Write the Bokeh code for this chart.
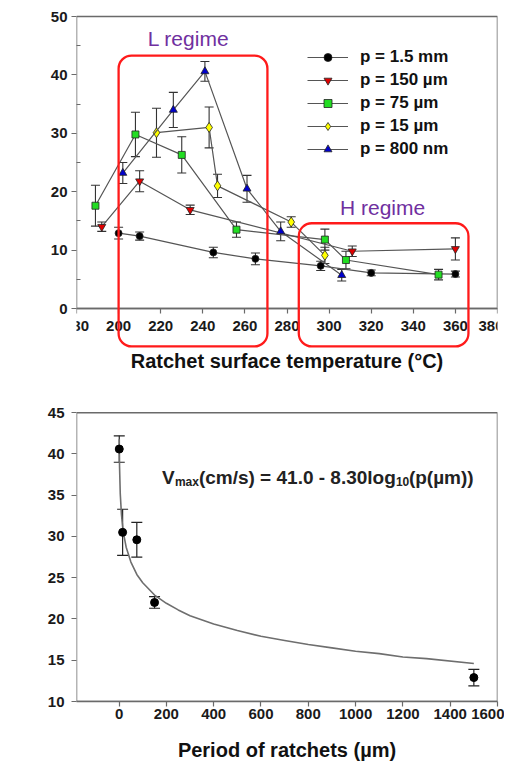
import math
from bokeh.plotting import figure
from bokeh.models import (ColumnDataSource, Whisker, TeeHead, BoxAnnotation,
                          Label, FixedTicker)
from bokeh.layouts import column
from bokeh.embed import file_html
from bokeh.resources import INLINE

# ---------------- data : panel (a) ----------------
T_15mm = [200, 210, 245, 265, 296, 320, 360]
V_15mm = [12.9, 12.4, 9.6, 8.5, 7.3, 6.1, 5.9]
E_15mm = [1.0, 0.7, 0.9, 1.0, 0.8, 0.5, 0.5]

T_150 = [192, 210, 234, 311, 360]
V_150 = [14.0, 21.8, 16.9, 9.8, 10.2]
E_150 = [0.8, 1.8, 0.8, 0.9, 1.9]

T_75 = [189, 208, 230, 256, 298, 308, 352]
V_75 = [17.6, 29.8, 26.3, 13.5, 11.8, 8.3, 5.8]
E_75 = [3.5, 3.8, 3.1, 1.3, 1.8, 1.5, 0.9]

T_15 = [218, 243, 247, 282, 298]
V_15 = [30.1, 31.0, 21.0, 14.8, 9.1]
E_15 = [4.2, 3.5, 2.0, 0.9, 1.4]

T_800 = [202, 226, 241, 261, 277, 306]
V_800 = [23.2, 34.0, 40.6, 20.5, 13.2, 5.7]
E_800 = [1.8, 3.0, 1.7, 2.3, 1.6, 1.0]

series_labels = ["p = 1.5 mm", "p = 150 µm", "p = 75 µm", "p = 15 µm", "p = 800 nm"]
x_ticks_a = [180, 200, 220, 240, 260, 280, 300, 320, 340, 360, 380]
y_ticks_a = [0, 10, 20, 30, 40, 50]
y_minor_a = [5, 15, 25, 35, 45]

# regime boxes (left, right, top, bottom) in data units
regime_boxes = [(200, 270.7, 43.3, -6.5), (285.6, 366.2, 14.6, -6.5)]
regime_labels = ["L regime", "H regime"]

# ---------------- data : panel (b) ----------------
period = [0.8, 15, 75, 150, 1500]
vmax = [40.6, 30.5, 29.6, 22.0, 12.9]
vmax_err = [1.6, 2.8, 2.1, 0.7, 1.0]

fit_p = [0.8, 2, 5, 10, 15, 20, 30, 50, 75, 100, 150, 200, 250, 300, 400, 500,
         600, 700, 800, 900, 1000, 1100, 1200, 1300, 1500]
fit_v = [41.8, 38.5, 35.2, 32.7, 31.2, 30.2, 28.7, 26.9, 25.4, 24.4, 22.9, 21.9,
         21.1, 20.4, 19.4, 18.6, 17.9, 17.4, 16.9, 16.5, 16.1, 15.8, 15.4, 15.2, 14.6]

x_ticks_b = [0, 200, 400, 600, 800, 1000, 1200, 1400, 1600]
y_ticks_b = [10, 15, 20, 25, 30, 35, 40, 45]

FONT = "Liberation Sans"
AX = "#6a6a6a"
W = 504


def style_axes(p, tick_size="15px"):
    p.outline_line_color = None
    p.grid.visible = False
    p.title.visible = False
    for ax in (p.xaxis[0], p.yaxis[0]):
        ax.axis_line_color = AX
        ax.axis_line_width = 1.5
        ax.major_tick_line_color = AX
        ax.major_tick_line_width = 1.2
        ax.minor_tick_line_color = AX
        ax.major_tick_in = 0
        ax.major_tick_out = 5
        ax.minor_tick_in = 0
        ax.minor_tick_out = 0
        ax.major_label_text_font = FONT
        ax.major_label_text_font_style = "bold"
        ax.major_label_text_font_size = tick_size
        ax.major_label_text_color = "#1a1a1a"
        ax.axis_label_text_font = FONT
        ax.axis_label_text_font_style = "bold"
        ax.axis_label_text_color = "#111111"
    # the left edge of the plot box is drawn by the outline box instead
    p.yaxis[0].axis_line_color = None


def outline(p, l, r, b, t):
    p.add_layout(BoxAnnotation(left=l, right=r, bottom=b, top=t,
                               fill_color=None, fill_alpha=0,
                               line_color=AX, line_width=1.5, line_alpha=1,
                               level="underlay"))


# ================= panel (a) =================
HA = 375
BL_A, BR_A, BT_A, BB_A = 76, 7, 2, 2          # canvas borders
XA0, XA1, YA0, YA1 = 180, 380, 0, 50          # visible axis extent
PX_Y0, PX_Y50 = 308, 16                       # canvas rows of y=0 and y=50
sy_a = (PX_Y0 - PX_Y50) / (YA1 - YA0)
sx_a = (W - BL_A - BR_A) / (XA1 - XA0)
y_hi_a = YA1 + (PX_Y50 - BT_A) / sy_a
y_lo_a = YA0 - (HA - BB_A - PX_Y0) / sy_a

pa = figure(width=W, height=HA, x_range=(XA0, XA1), y_range=(y_lo_a, y_hi_a),
            output_backend="svg", toolbar_location=None,
            min_border_left=BL_A, min_border_right=BR_A, min_border_top=BT_A,
            min_border_bottom=BB_A)
style_axes(pa)
pa.xaxis.fixed_location = YA0
pa.xaxis.ticker = FixedTicker(ticks=x_ticks_a)
# the two end labels would be cut by the frame: they are drawn as labels below
pa.xaxis.major_label_overrides = {x_ticks_a[0]: "", x_ticks_a[-1]: ""}
pa.yaxis.ticker = FixedTicker(ticks=y_ticks_a, minor_ticks=y_minor_a)
pa.yaxis.minor_tick_in = 4
pa.xaxis.axis_label = "Ratchet surface temperature (°C)"
pa.xaxis.axis_label_text_font_size = "20px"
pa.xaxis.major_label_standoff = 7
pa.yaxis.major_label_standoff = 4
pa.xaxis.axis_label_standoff = 16
outline(pa, XA0, XA1, YA0, YA1)


def ax_x(px):
    return XA0 + (px - BL_A) / sx_a


def ax_y(py):
    return YA0 + (PX_Y0 - py) / sy_a


for (l, r, t, b) in regime_boxes:
    pa.add_layout(BoxAnnotation(left=l, right=r, top=t, bottom=b,
                                fill_color=None, fill_alpha=0,
                                line_color="#ff1a1a", line_width=2.3,
                                line_alpha=1, border_radius=13))

series = [
    (T_15mm, V_15mm, E_15mm, "circle", "#000000", 7),
    (T_150, V_150, E_150, "inverted_triangle", "#e00000", 8),
    (T_75, V_75, E_75, "square", "#22dd22", 7),
    (T_15, V_15, E_15, "diamond", "#ffff00", 10),
    (T_800, V_800, E_800, "triangle", "#0000cc", 8),
]

for (T, V, E, mk, col, sz), lab in zip(series, series_labels):
    src = ColumnDataSource(dict(x=T, y=V,
                                upper=[v + e for v, e in zip(V, E)],
                                lower=[v - e for v, e in zip(V, E)]))
    w = Whisker(source=src, base="x", upper="upper", lower="lower",
                line_color="#333333", line_width=1.1,
                upper_head=TeeHead(size=9, line_color="#333333", line_width=1.1),
                lower_head=TeeHead(size=9, line_color="#333333", line_width=1.1))
    pa.add_layout(w)
    pa.line("x", "y", source=src, line_color="#555555", line_width=1.2,
            legend_label=lab)
    pa.scatter("x", "y", source=src, marker=mk, size=sz, fill_color=col,
               line_color="#222222", line_width=0.8, legend_label=lab)

lg = pa.legend[0]
lg.location = (231, 149 + (HA - BB_A - PX_Y0))
lg.padding = 0
lg.margin = 0
lg.spacing = 3
lg.glyph_width = 41
lg.glyph_height = 20
lg.label_height = 20
lg.label_standoff = 12
lg.label_text_font = FONT
lg.label_text_font_style = "bold"
lg.label_text_font_size = "17px"
lg.label_text_color = "#111111"
lg.border_line_color = None
lg.background_fill_alpha = 0

# end tick labels of the x axis
pa.add_layout(Label(x=x_ticks_a[0], y=ax_y(320), text=str(x_ticks_a[0]),
                    text_align="center", text_baseline="top", text_font=FONT,
                    text_font_style="bold", text_font_size="15px",
                    text_color="#1a1a1a"))
pa.add_layout(Label(x=ax_x(503), y=ax_y(320), text=str(x_ticks_a[-1]),
                    text_align="right", text_baseline="top", text_font=FONT,
                    text_font_style="bold", text_font_size="15px",
                    text_color="#1a1a1a"))

pa.add_layout(Label(x=233.2, y=46.2, text=regime_labels[0], text_align="center",
                    text_baseline="middle", text_font=FONT,
                    text_font_size="21px", text_color="#7030A0"))
pa.add_layout(Label(x=325.4, y=17.3, text=regime_labels[1], text_align="center",
                    text_baseline="middle", text_font=FONT,
                    text_font_size="21px", text_color="#7030A0"))
pa.add_layout(Label(x=ax_x(28), y=ax_y(12), text="(a)",
                    text_align="center", text_baseline="middle", text_font=FONT,
                    text_font_style="bold", text_font_size="18px",
                    text_color="#111111"))
pa.add_layout(Label(x=ax_x(26), y=27.6, text="Mean velocity (cm/s)",
                    angle=math.pi / 2, text_align="center", text_baseline="middle",
                    text_font=FONT, text_font_style="bold", text_font_size="17px",
                    text_color="#111111"))

# ================= panel (b) =================
HB = 388
BL_B, BR_B, BT_B, BB_B = 74, 6, 2, 55
XB0, XB1, YB0, YB1 = -180, 1600, 10, 45
PX_TOP_B = 38                                 # canvas row of y=45
sy_b = (HB - BB_B - PX_TOP_B) / (YB1 - YB0)
sx_b = (W - BL_B - BR_B) / (XB1 - XB0)
y_hi_b = YB1 + (PX_TOP_B - BT_B) / sy_b


def bx_x(px):
    return XB0 + (px - BL_B) / sx_b


def bx_y(py):
    return y_hi_b - (py - BT_B) / sy_b


pb = figure(width=W, height=HB, x_range=(XB0, XB1), y_range=(YB0, y_hi_b),
            output_backend="svg", toolbar_location=None,
            min_border_left=BL_B, min_border_right=BR_B, min_border_top=BT_B,
            min_border_bottom=BB_B)
style_axes(pb)
pb.xaxis.ticker = FixedTicker(ticks=x_ticks_b)
pb.yaxis.ticker = FixedTicker(ticks=y_ticks_b)
pb.xaxis.axis_label = "Period of ratchets (µm)"
pb.xaxis.axis_label_text_font_size = "20px"
pb.xaxis.major_label_standoff = 2
pb.yaxis.major_label_standoff = 7
pb.xaxis.axis_label_standoff = 17
outline(pb, XB0, XB1, YB0, YB1)

pb.line(fit_p, fit_v, line_color="#6e6e6e", line_width=1.6)
srcb = ColumnDataSource(dict(x=period, y=vmax,
                             upper=[v + e for v, e in zip(vmax, vmax_err)],
                             lower=[v - e for v, e in zip(vmax, vmax_err)]))
pb.add_layout(Whisker(source=srcb, base="x", upper="upper", lower="lower",
                      line_color="#222222", line_width=1.2,
                      upper_head=TeeHead(size=11, line_color="#222222", line_width=1.2),
                      lower_head=TeeHead(size=11, line_color="#222222", line_width=1.2)))
pb.scatter("x", "y", source=srcb, marker="circle", size=8,
           fill_color="#000000", line_color="#000000")

pb.add_layout(Label(x=bx_x(36), y=bx_y(11), text="(b)",
                    text_align="center", text_baseline="middle", text_font=FONT,
                    text_font_style="bold", text_font_size="18px",
                    text_color="#111111"))
pb.add_layout(Label(x=bx_x(23), y=bx_y(180.5),
                    text="Maximum mean velocity (cm/s)", angle=math.pi / 2,
                    text_align="center", text_baseline="middle", text_font=FONT,
                    text_font_style="bold", text_font_size="20px",
                    text_color="#111111"))

eq_parts = [("V", "19px", 0, 0), ("max", "12px", 13, -4),
            ("(cm/s) = 41.0 - 8.30log", "19px", 37, 0), ("10", "12px", 234, -4),
            ("(p(µm))", "19px", 247, 0)]
for txt, fs, dx, dy in eq_parts:
    pb.add_layout(Label(x=181, y=37.15, x_offset=dx, y_offset=dy, text=txt,
                        text_align="left", text_baseline="alphabetic",
                        text_font=FONT, text_font_style="bold",
                        text_font_size=fs, text_color="#222222"))

layout = column(pa, pb)
open("out.html", "w").write(file_html(layout, INLINE))
